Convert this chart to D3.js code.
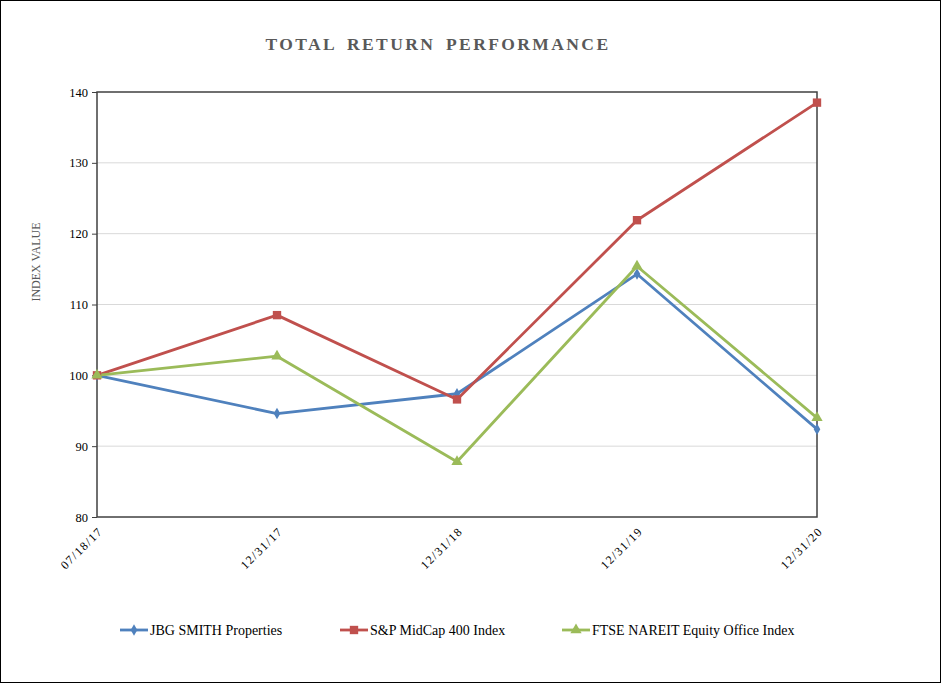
<!DOCTYPE html>
<html><head><meta charset="utf-8">
<script src="https://cdn.jsdelivr.net/npm/d3@7/dist/d3.min.js"></script>
<style>body{margin:0;background:#fff}svg{display:block}</style>
</head><body><svg id="c" width="941" height="683"></svg>
<script>
const categories = ["07/18/17","12/31/17","12/31/18","12/31/19","12/31/20"];
const jbgSmith = [100, 94.6, 97.4, 114.3, 92.4];
const spMidCap = [100, 108.5, 96.6, 121.9, 138.5];
const ftseNareit = [100, 102.7, 87.8, 115.4, 94.0];
const yTicks = [80, 90, 100, 110, 120, 130, 140];
const seriesNames = ["JBG SMITH Properties","S&P MidCap 400 Index","FTSE NAREIT Equity Office Index"];

const series = [
  {name: seriesNames[0], values: jbgSmith, color: "#4f81bd", symbol: d3.symbolDiamond, size: 38},
  {name: seriesNames[1], values: spMidCap, color: "#c0504d", symbol: d3.symbolSquare, size: 70},
  {name: seriesNames[2], values: ftseNareit, color: "#9bbb59", symbol: d3.symbolTriangle, size: 55}
];

const svg = d3.select("#c");
const font = "'Liberation Serif','Times New Roman',serif";
svg.append("rect").attr("x",0.5).attr("y",0.5).attr("width",940).attr("height",682)
  .attr("fill","#fff").attr("stroke","#000").attr("stroke-width",1);

const L = 97, R = 817, T = 92, B = 517;
const x = d3.scalePoint().domain(categories).range([L, R]);
const y = d3.scaleLinear().domain([80, 140]).range([B, T]);

// title
svg.append("text").attr("x", 438).attr("y", 50).attr("text-anchor","middle")
  .attr("font-family", font).attr("font-weight","bold").attr("font-size",17.5)
  .attr("letter-spacing", 2.4).attr("word-spacing", 4).attr("fill","#595959").text("TOTAL RETURN PERFORMANCE");

// gridlines
svg.append("g").selectAll("line").data(yTicks.filter(t => t>80 && t<140)).join("line")
  .attr("x1", L).attr("x2", R).attr("y1", d=>y(d)).attr("y2", d=>y(d))
  .attr("stroke","#d9d9d9").attr("stroke-width",1);

// y axis
const ya = svg.append("g").attr("transform",`translate(${L},0)`)
  .call(d3.axisLeft(y).tickValues(yTicks).tickSize(5).tickPadding(4).tickFormat(d3.format("d")));
ya.select(".domain").remove();
ya.selectAll(".tick line").attr("stroke","#404040");
ya.selectAll("text").attr("font-family",font).attr("font-size",12.5).attr("fill","#000");

// plot frame
svg.append("rect").attr("x",L).attr("y",T).attr("width",R-L).attr("height",B-T)
  .attr("fill","none").attr("stroke","#404040").attr("stroke-width",1.5);

// x labels
const xa = svg.append("g").attr("transform",`translate(0,${B})`)
  .call(d3.axisBottom(x).tickSize(0).tickPadding(0));
xa.select(".domain").remove();
xa.selectAll("text").attr("font-family",font).attr("font-size",12).attr("fill","#000")
  .attr("letter-spacing",1.4).attr("text-anchor","end")
  .attr("transform","translate(3,12) rotate(-45)").attr("dy","0.35em");

// y label
svg.append("text").attr("transform","translate(40,262) rotate(-90)").attr("text-anchor","middle")
  .attr("font-family",font).attr("font-size",12).attr("fill","#595959").text("INDEX VALUE");

// lines
const line = d3.line().x((d,i)=>x(categories[i])).y(d=>y(d));
series.forEach(s => {
  svg.append("path").datum(s.values).attr("d", line).attr("fill","none")
    .attr("stroke", s.color).attr("stroke-width", 2.8).attr("stroke-linejoin","round");
});
series.forEach(s => {
  svg.append("g").selectAll("path").data(s.values).join("path")
    .attr("d", d3.symbol().type(s.symbol).size(s.size))
    .attr("transform", (d,i)=>`translate(${x(categories[i])},${y(d)})`)
    .attr("fill", s.color);
});

// legend
const legX = [120, 340, 562];
series.forEach((s,i) => {
  const g = svg.append("g").attr("transform",`translate(${legX[i]},630)`);
  g.append("line").attr("x1",0).attr("x2",28).attr("stroke",s.color).attr("stroke-width",2.8);
  g.append("path").attr("d", d3.symbol().type(s.symbol).size(s.size)).attr("transform","translate(14,0)").attr("fill",s.color);
  g.append("text").attr("x",30).attr("y",0).attr("dy","0.35em").attr("font-family",font)
    .attr("font-size",14).attr("fill","#000").text(s.name);
});
</script></body></html>
